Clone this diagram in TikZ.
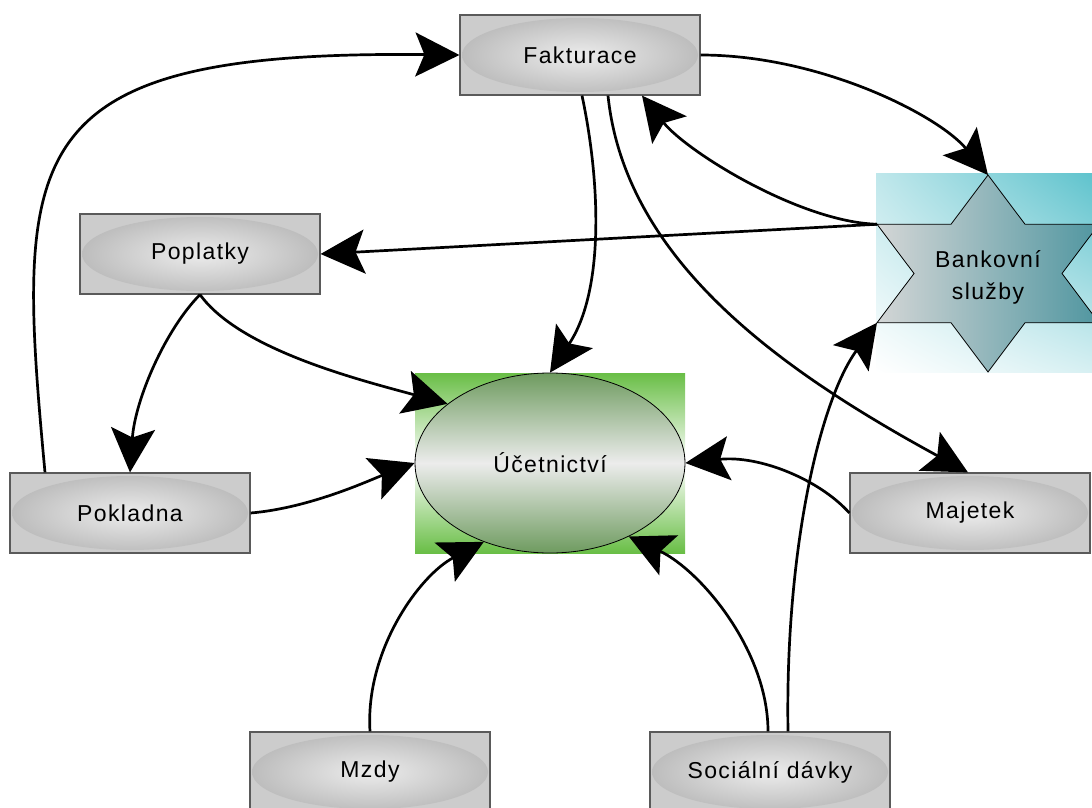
\documentclass[tikz,border=0pt]{standalone}
\usepackage{fontspec}
\setmainfont{Liberation Sans}[LetterSpace=6]
\usetikzlibrary{arrows.meta,calc,shapes.geometric,shadings}
\definecolor{boxfill}{RGB}{204,204,204}
\definecolor{boxedge}{RGB}{90,90,90}
\definecolor{ringout}{RGB}{188,188,188}
\definecolor{ringin}{RGB}{236,236,236}
\definecolor{accgreen}{RGB}{105,190,70}
\definecolor{ellgreen}{RGB}{110,155,95}
\definecolor{ellmid}{RGB}{236,236,236}
\definecolor{bgcyan}{RGB}{95,195,205}
\definecolor{starL}{RGB}{212,214,214}
\definecolor{starR}{RGB}{80,150,160}
\begin{document}
\begin{tikzpicture}[x=1pt,y=-1pt,
  lbl/.style={font=\fontsize{23}{27}\selectfont, text=black},
  box/.style={lbl, draw=boxedge, line width=1.2pt, fill=boxfill,
    minimum width=240pt, minimum height=80pt, inner sep=0pt,
    path picture={\shade[inner color=ringin, outer color=ringout]
      (path picture bounding box.center) ellipse [x radius=118pt, y radius=37pt];}},
  conn/.style={line width=2.7pt, -{Stealth[length=44pt,width=44pt,inset=9pt]}}]
\useasboundingbox (0,0) rectangle (1092,808);

% background of the star
\shade[upper left=bgcyan!40, upper right=bgcyan, lower left=white, lower right=bgcyan!25]
  (876,173) rectangle (1092,372);
% star
\draw[line width=0.8pt, left color=starL, right color=starR]
  (988,175) -- (1025,224.25) -- (1099,224.25) -- (1062,273.5) -- (1099,322.75)
  -- (1025,322.75) -- (988,372) -- (951,322.75) -- (877,322.75) -- (914,273.5)
  -- (877,224.25) -- (951,224.25) -- cycle;
\coordinate (stT) at (988,175);
\coordinate (stUL) at (877,224.25);
\coordinate (stLL) at (877,322.75);
\node[lbl, font=\fontsize{23}{32}\selectfont, align=center] (bank) at (988,277) {Bankovní\\služby};

% accounting
\shade[top color=accgreen, bottom color=accgreen, middle color=white] (415,373) rectangle (685,553);
\node[lbl, ellipse, draw, line width=0.8pt, minimum width=270pt, minimum height=180pt,
  inner sep=0pt, top color=ellgreen, bottom color=ellgreen, middle color=ellmid] (uce) at (550,463) {Účetnictví};

% boxes
\node[box] (fak) at (580,55) {Fakturace};
\node[box] (pop) at (200,254) {Poplatky};
\node[box] (pok) at (130,513) {Pokladna};
\node[box] (maj) at (970,513) {Majetek};
\node[box] (mzd) at (370,772) {Mzdy};
\node[box] (soc) at (770,772) {Sociální dávky};

% connectors
\draw[conn] ([xshift=-85pt]pok.north) .. controls (15,150) and (15,50) .. (fak.west);
\draw[conn] (fak.east) .. controls (820,55) and (938,115) .. (stT);
\draw[conn] (stUL) .. controls (800,222) and (687,152) .. ([xshift=62pt]fak.south);
\draw[conn] (stUL) -- (pop.east);
\draw[conn] ([xshift=2pt]fak.south) .. controls (600,180) and (605,290) .. (uce.north);
\draw[conn] ([xshift=28pt]fak.south) .. controls (625,260) and (780,370) .. ([xshift=-2pt]maj.north);
\draw[conn] (pop.south) .. controls (165,330) and (135,400) .. (pok.north);
\draw[conn] (pop.south) .. controls (240,350) and (360,380) .. (uce.150);
\draw[conn] (pok.east) .. controls (310,508) and (370,480) .. (uce.west);
\draw[conn] (maj.west) .. controls (820,480) and (760,455) .. (uce.east);
\draw[conn] (mzd.north) .. controls (365,650) and (420,575) .. (uce.-130);
\draw[conn] ([xshift=-2pt]soc.north) .. controls (768,650) and (700,570) .. (uce.-43);
\draw[conn] ([xshift=18pt]soc.north) .. controls (785,550) and (820,400) .. (stLL);
\end{tikzpicture}
\end{document}
